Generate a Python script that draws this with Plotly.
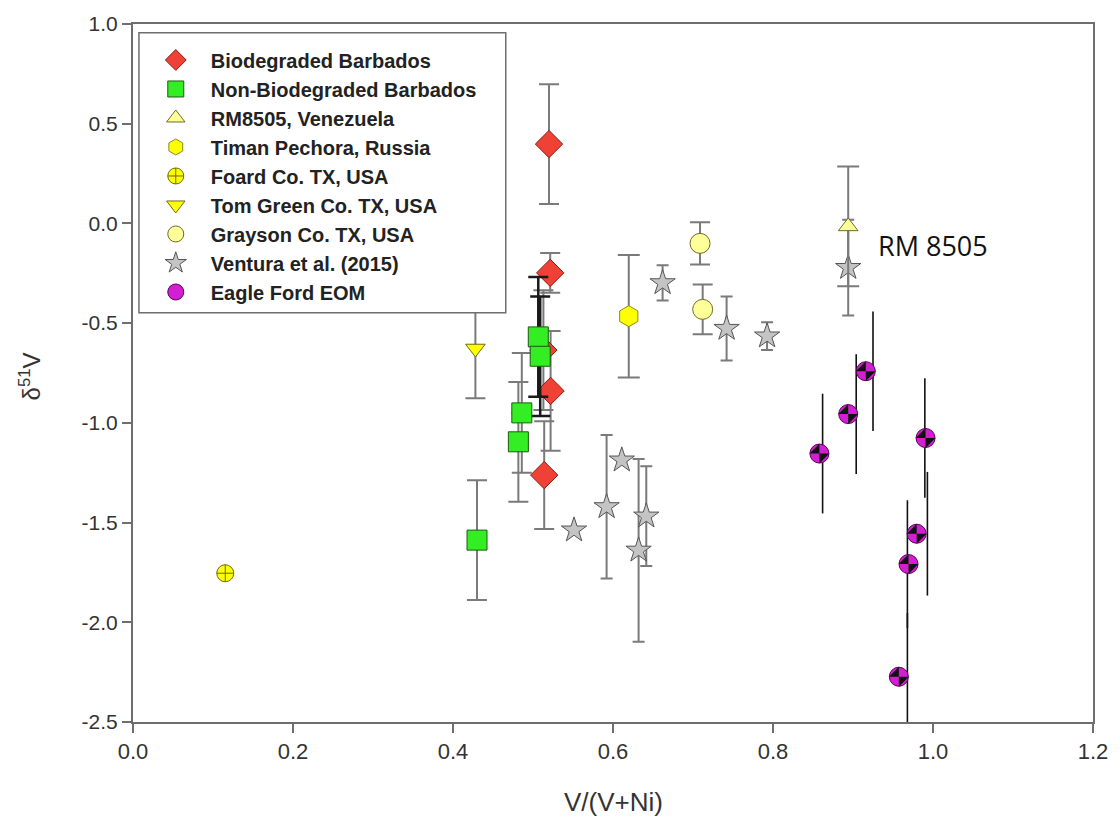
import plotly.graph_objects as go

# ---------------- data ----------------
bio_x = [0.520, 0.5215, 0.513, 0.522, 0.514]
bio_y = [0.398, -0.248, -0.635, -0.840, -1.262]
bio_err = [0.30, 0.10, 0.30, 0.30, 0.27]

non_x = [0.5066, 0.509, 0.486, 0.4817, 0.430]
non_y = [-0.569, -0.666, -0.950, -1.095, -1.588]
non_err_gray = [0.0, 0.0, 0.30, 0.30, 0.30]
non_err_black = [0.30, 0.30, 0.0, 0.0, 0.0]

rm_x = [0.894]
rm_y = [-0.015]
rm_err = [0.30]

timan_x = [0.6197]
timan_y = [-0.465]
timan_err = [0.307]

foard_x = [0.1153]
foard_y = [-1.754]
foard_err = [0.02]

tom_x = [0.428]
tom_y = [-0.627]
tom_err = [0.25]

gray_x = [0.7088, 0.7121]
gray_y = [-0.100, -0.431]
gray_err = [0.106, 0.125]

vent_x = [0.662, 0.742, 0.7926, 0.611, 0.592, 0.6416, 0.632, 0.5513, 0.894]
vent_y = [-0.298, -0.527, -0.565, -1.187, -1.421, -1.468, -1.639, -1.538, -0.2215]
vent_err = [0.088, 0.16, 0.07, 0.0, 0.36, 0.25, 0.458, 0.0, 0.24]

eagle_x = [0.916, 0.894, 0.858, 0.9907, 0.9796, 0.9694, 0.9573]
eagle_y = [-0.741, -0.956, -1.154, -1.076, -1.556, -1.708, -2.273]
eagle_line_x = [0.925, 0.904, 0.862, 0.9898, 0.993, 0.968, 0.968]
eagle_err = [0.30, 0.30, 0.30, 0.30, 0.31, 0.32, 0.32]

x_tick_vals = [0.0, 0.2, 0.4, 0.6, 0.8, 1.0, 1.2]
x_tick_text = ["0.0", "0.2", "0.4", "0.6", "0.8", "1.0", "1.2"]
y_tick_vals = [-2.5, -2.0, -1.5, -1.0, -0.5, 0.0, 0.5, 1.0]
y_tick_text = ["-2.5", "-2.0", "-1.5", "-1.0", "-0.5", "0.0", "0.5", "1.0"]

# ---------------- styling helpers ----------------
ERR_GRAY = "#7a7a7a"
FONT = "Liberation Sans, Arial, sans-serif"


def err(arr, w=10, color=ERR_GRAY, th=2):
    return dict(type="data", array=arr, symmetric=True, color=color,
                thickness=th, width=w)


fig = go.Figure()

# Biodegraded Barbados
fig.add_trace(go.Scatter(
    x=bio_x, y=bio_y, mode="markers", name="Biodegraded Barbados",
    legendrank=1, error_y=err(bio_err),
    marker=dict(symbol="diamond", size=21, color="#ef4136",
                line=dict(color="#8a1a10", width=1))))

# black error bars behind two squares
fig.add_trace(go.Scatter(
    x=non_x, y=non_y, mode="markers", showlegend=False, hoverinfo="skip",
    error_y=err(non_err_black, color="#1a1a1a", th=2.5),
    marker=dict(size=1, color="rgba(0,0,0,0)")))

# Non-Biodegraded Barbados
fig.add_trace(go.Scatter(
    x=non_x, y=non_y, mode="markers", name="Non-Biodegraded Barbados",
    legendrank=2, error_y=err(non_err_gray),
    marker=dict(symbol="square", size=20, color="#33ee22",
                line=dict(color="#1d5a12", width=1))))

# Ventura et al. (2015)  (drawn before the RM8505 triangle)
fig.add_trace(go.Scatter(
    x=vent_x, y=vent_y, mode="markers", name="Ventura et al. (2015)",
    legendrank=8, error_y=err(vent_err, w=6),
    marker=dict(symbol="star", size=19, color="#c4c4c4",
                line=dict(color="#555555", width=1))))

# RM8505
fig.add_trace(go.Scatter(
    x=rm_x, y=rm_y, mode="markers", name="RM8505, Venezuela",
    legendrank=3, error_y=err(rm_err, w=11),
    marker=dict(symbol="triangle-up", size=17, color="#ffff99",
                line=dict(color="#6b6b2a", width=1))))

# Timan Pechora
fig.add_trace(go.Scatter(
    x=timan_x, y=timan_y, mode="markers", name="Timan Pechora, Russia",
    legendrank=4, error_y=err(timan_err, w=11),
    marker=dict(symbol="hexagon", size=21, color="#ffff00",
                line=dict(color="#8a8a20", width=1))))

# Foard
fig.add_trace(go.Scatter(
    x=foard_x, y=foard_y, mode="markers", name="Foard Co. TX, USA",
    legendrank=5, error_y=err(foard_err, w=5),
    marker=dict(symbol="circle-cross", size=17, color="#ffff00",
                line=dict(color="#6b6b10", width=1))))

# Tom Green
fig.add_trace(go.Scatter(
    x=tom_x, y=tom_y, mode="markers", name="Tom Green Co. TX, USA",
    legendrank=6, error_y=err(tom_err),
    marker=dict(symbol="triangle-down", size=17, color="#ffff00",
                line=dict(color="#6b6b10", width=1))))

# Grayson
fig.add_trace(go.Scatter(
    x=gray_x, y=gray_y, mode="markers", name="Grayson Co. TX, USA",
    legendrank=7, error_y=err(gray_err),
    marker=dict(symbol="circle", size=20, color="#ffff99",
                line=dict(color="#6b6b2a", width=1))))

# Eagle Ford error lines (no caps)
fig.add_trace(go.Scatter(
    x=eagle_line_x, y=eagle_y, mode="markers", showlegend=False,
    hoverinfo="skip", cliponaxis=False,
    error_y=dict(type="data", array=eagle_err, color="#111111",
                 thickness=1.6, width=0),
    marker=dict(size=1, color="rgba(0,0,0,0)")))

# Eagle Ford EOM
fig.add_trace(go.Scatter(
    x=eagle_x, y=eagle_y, mode="markers", name="Eagle Ford EOM",
    legendrank=9,
    marker=dict(symbol="circle", size=19, color="#d21fd2",
                line=dict(color="#5a005a", width=1))))
fig.add_trace(go.Scatter(
    x=eagle_x, y=eagle_y, mode="markers", showlegend=False, hoverinfo="skip",
    marker=dict(symbol="hourglass", size=14, angle=-45, color="#111111",
                line=dict(width=0))))

# ---------------- layout ----------------
AX_COLOR = "#6e6e6e"
fig.update_layout(
    width=1120, height=825, autosize=False,
    margin=dict(l=133, r=22, t=24, b=103),
    paper_bgcolor="white", plot_bgcolor="white",
    font=dict(family=FONT, color="#333333"),
    showlegend=True,
    legend=dict(
        x=0.0081, y=0.9764, xanchor="left", yanchor="top",
        bgcolor="rgba(0,0,0,0)", borderwidth=0,
        font=dict(family=FONT, size=20, color="#222222", weight="bold"),
        tracegroupgap=0, itemsizing="trace", itemwidth=60,
        traceorder="normal",
    ),
    xaxis=dict(
        range=[0, 1.2], tickvals=x_tick_vals, ticktext=x_tick_text,
        showgrid=False, zeroline=False, showline=True, mirror=True,
        linecolor=AX_COLOR, linewidth=2, ticks="outside", ticklen=9,
        tickwidth=2, tickcolor=AX_COLOR,
        tickfont=dict(family=FONT, size=22, color="#333333"),
    ),
    yaxis=dict(
        range=[-2.5, 1.0], tickvals=y_tick_vals, ticktext=y_tick_text,
        showgrid=False, zeroline=False, showline=True, mirror=True,
        linecolor=AX_COLOR, linewidth=2, ticks="outside", ticklen=9,
        tickwidth=2, tickcolor=AX_COLOR,
        tickfont=dict(family=FONT, size=21, color="#333333"),
    ),
    shapes=[dict(
        type="rect", xref="paper", yref="paper",
        x0=0.0062, x1=0.3883, y0=0.5862, y1=0.9875,
        line=dict(color="#6e6e6e", width=1.5), fillcolor="white",
        layer="above")],
    annotations=[
        dict(text="V/(V+Ni)", xref="paper", yref="paper", x=0.5, y=-0.115,
             xanchor="center", yanchor="middle", showarrow=False,
             font=dict(family=FONT, size=26, color="#333333")),
        dict(text="δ<sup>51</sup>V", xref="paper", yref="paper",
             x=-0.107, y=0.4955, xanchor="center", yanchor="middle",
             textangle=-90, showarrow=False,
             font=dict(family=FONT, size=24, color="#333333")),
        dict(text="RM 8505", xref="x", yref="y", x=1.0, y=-0.109,
             xanchor="center", yanchor="middle", showarrow=False,
             font=dict(family="Open Sans, sans-serif", size=27,
                       color="#111111")),
    ],
)

fig.write_html("out.html")
